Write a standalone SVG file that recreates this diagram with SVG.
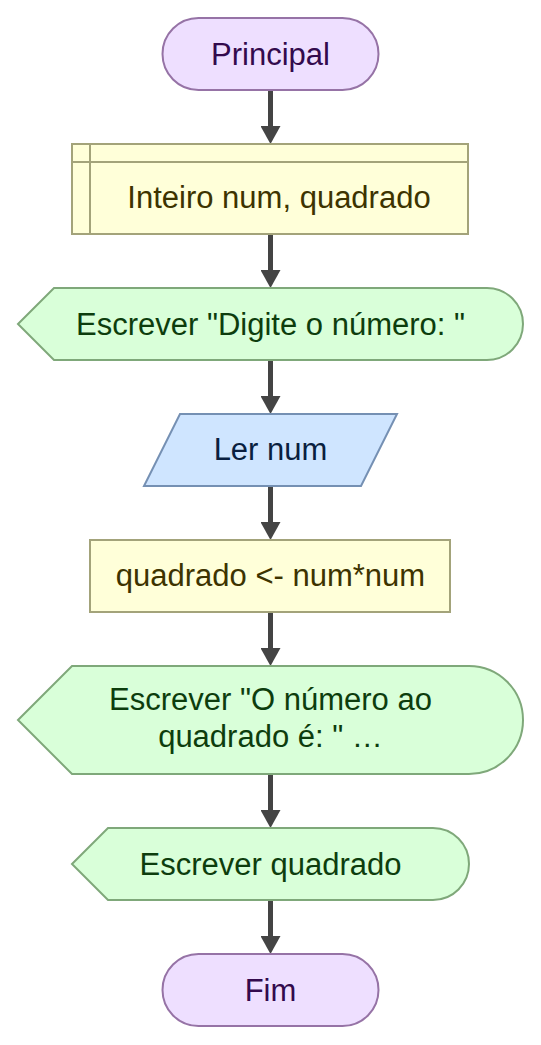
<svg xmlns="http://www.w3.org/2000/svg" width="541" height="1045" viewBox="0 0 541 1045">
<style>
text{font-family:"Liberation Sans",Arial,sans-serif;font-size:31px;text-anchor:middle}
.term{fill:#eedfff;stroke:#9673a6;stroke-width:2}
.term-t{fill:#330a4d}
.decl{fill:#ffffd9;stroke:#a3a37a;stroke-width:2}
.decl-t{fill:#3d3300}
.disp{fill:#d9ffd9;stroke:#7fa87a;stroke-width:2}
.disp-t{fill:#0d3d0d}
.io{fill:#cfe5ff;stroke:#7590b3;stroke-width:2}
.io-t{fill:#0a1f40}
.edge{stroke:#444;stroke-width:5;fill:none}
</style>
<defs>
<marker id="ah" markerUnits="userSpaceOnUse" markerWidth="18" markerHeight="20" viewBox="0 0 18 20" refX="1" refY="10" orient="auto">
<path d="M0,0 L18,10 L0,20 Z" fill="#444"/>
</marker>
</defs>
<g id="connectors">
<line class="edge" x1="270.5" y1="90" x2="270.5" y2="127" marker-end="url(#ah)"/>
<line class="edge" x1="270.5" y1="234" x2="270.5" y2="271" marker-end="url(#ah)"/>
<line class="edge" x1="270.5" y1="360" x2="270.5" y2="397" marker-end="url(#ah)"/>
<line class="edge" x1="270.5" y1="486" x2="270.5" y2="523" marker-end="url(#ah)"/>
<line class="edge" x1="270.5" y1="612" x2="270.5" y2="649" marker-end="url(#ah)"/>
<line class="edge" x1="270.5" y1="774" x2="270.5" y2="811" marker-end="url(#ah)"/>
<line class="edge" x1="270.5" y1="900" x2="270.5" y2="937" marker-end="url(#ah)"/>
</g>
<g id="principal">
<rect class="term" x="162.5" y="18" width="216" height="72" rx="36"/>
<text class="term-t" x="270.5" y="65">Principal</text>
</g>
<g id="declaracao">
<rect class="decl" x="72" y="144" width="396" height="90"/>
<line class="decl" x1="90" y1="144" x2="90" y2="234"/>
<line class="decl" x1="72" y1="162" x2="468" y2="162"/>
<text class="decl-t" x="279" y="208">Inteiro num, quadrado</text>
</g>
<g id="escrever1">
<path class="disp" d="M18,324 L54,288 L487,288 A36,36 0 0 1 487,360 L54,360 Z"/>
<text class="disp-t" x="270.5" y="335">Escrever "Digite o número: "</text>
</g>
<g id="ler">
<polygon class="io" points="180,414 397,414 361,486 144,486"/>
<text class="io-t" x="270.5" y="460">Ler num</text>
</g>
<g id="atribuicao">
<rect class="decl" x="90" y="540" width="360" height="72"/>
<text class="decl-t" x="270.5" y="586">quadrado &lt;- num*num</text>
</g>
<g id="escrever2">
<path class="disp" d="M18,720 L72,666 L469,666 A54,54 0 0 1 469,774 L72,774 Z"/>
<text class="disp-t" x="270.5" y="710">Escrever "O número ao</text>
<text class="disp-t" x="270.5" y="747">quadrado é: " …</text>
</g>
<g id="escrever3">
<path class="disp" d="M72,864 L108,828 L433,828 A36,36 0 0 1 433,900 L108,900 Z"/>
<text class="disp-t" x="270.5" y="875">Escrever quadrado</text>
</g>
<g id="fim">
<rect class="term" x="162.5" y="954" width="216" height="72" rx="36"/>
<text class="term-t" x="270.5" y="1001">Fim</text>
</g>
</svg>
